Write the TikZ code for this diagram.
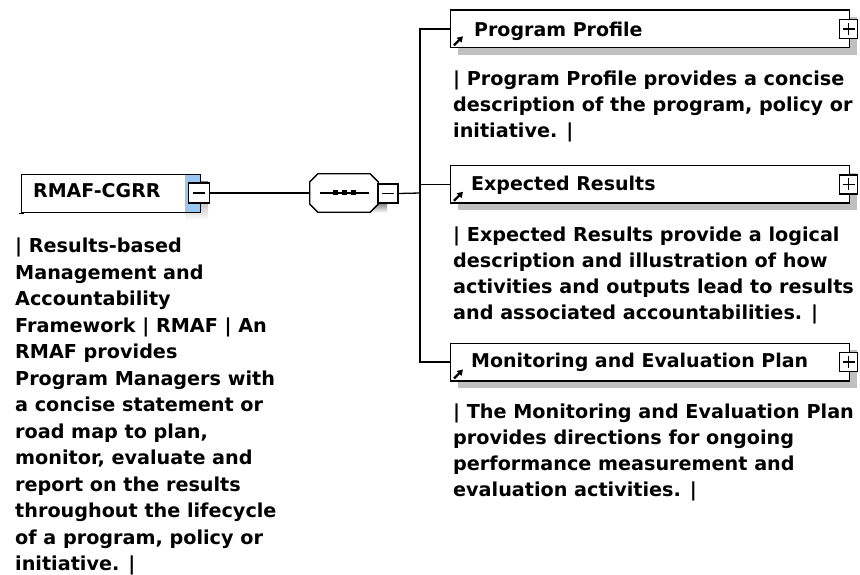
\documentclass[tikz,border=0pt]{standalone}
\usepackage{fontspec}
\setmainfont{DejaVu Sans}
\usetikzlibrary{arrows.meta}
\definecolor{shade}{RGB}{192,192,192}
\definecolor{selblue}{RGB}{153,199,242}

\tikzset{
  wire/.style={line width=1.3pt},
  togbox/.style={draw, line width=1.3pt, fill=white, rectangle, inner sep=0pt,
    minimum width=19pt, minimum height=19pt},
  minusbox/.style={togbox, path picture={
    \draw[line width=1.3pt] ([xshift=-6pt]path picture bounding box.center)
      -- ([xshift=6pt]path picture bounding box.center);}},
  plusbox/.style={togbox, path picture={
    \draw[line width=1.3pt] ([xshift=-6pt]path picture bounding box.center)
      -- ([xshift=6pt]path picture bounding box.center)
      ([yshift=-6pt]path picture bounding box.center)
      -- ([yshift=6pt]path picture bounding box.center);}},
  elbox/.style={draw, line width=1.3pt, fill=white, rectangle, inner sep=0pt,
    minimum width=399pt, minimum height=37.5pt, anchor=north west,
    preaction={draw=none, fill=shade, transform canvas={xshift=7pt, yshift=-7pt}}},
  lbl/.style={font=\fontsize{19}{22}\selectfont\bfseries, anchor=base west, inner sep=0pt},
  desc/.style={font=\fontsize{19.2}{26}\selectfont\bfseries, align=left,
    anchor=north west, inner sep=0pt},
  refarrow/.style={line width=2.2pt, -{Triangle[length=5.5pt, width=6.5pt]}}
}

\begin{document}
\begin{tikzpicture}[x=1pt, y=-1pt]
\useasboundingbox (0,0) rectangle (860,575);
\fill[white] (0,0) rectangle (860,575);

% root element
\fill[shade] (185,182) rectangle (208,220);
\node[draw, line width=1.3pt, fill=white, rectangle, inner sep=0pt,
  minimum width=179pt, minimum height=38pt, anchor=north west,
  path picture={\fill[selblue] ([xshift=-16pt]path picture bounding box.north east)
    rectangle (path picture bounding box.south east);}] (rmaf) at (21,174) {};
\draw[line width=1.3pt] ([xshift=-2pt]rmaf.south west) -- ([xshift=3pt]rmaf.south west);
\node[lbl] (rmaflbl) at (33,197.5) {RMAF-CGRR};
\node[minusbox, minimum width=21pt, minimum height=20pt] (rmaftog) at (199,193) {};

% sequence compositor
\fill[shade] (370,203) rectangle (387,212.5);
\node[minimum width=68pt, minimum height=38pt, inner sep=0pt] (seq) at (344,193) {};
\draw[line width=1.3pt, fill=white]
  ([xshift=8pt]seq.north west) -- ([xshift=-8pt]seq.north east)
  -- ([yshift=-8pt]seq.north east) -- ([yshift=8pt]seq.south east)
  -- ([xshift=-8pt]seq.south east) -- ([xshift=8pt]seq.south west)
  -- ([yshift=8pt]seq.south west) -- ([yshift=-8pt]seq.north west) -- cycle;
\draw[line width=1.3pt] ([xshift=-24pt]seq.center) -- ([xshift=25pt]seq.center);
\foreach \dx in {-9,0,9}
  \fill ([shift={(\dx-2.5,-2.5)}]seq.center) rectangle +(5,5);
\node[minusbox, minimum width=20pt] (seqtog) at (388,193.5) {};

% child elements
\node[elbox] (pp) at (450,9.5) {};
\node[elbox] (er) at (450,165) {};
\node[elbox] (me) at (450,342.7) {};

\node[lbl] (pplbl) at (474,36.5) {Program Profile};
\node[lbl] (erlbl) at (471,190.5) {Expected Results};
\node[lbl] (melbl) at (471,367) {Monitoring and Evaluation Plan};

\foreach \b in {pp,er,me}{
  \draw[refarrow] ([shift={(4,-3)}]\b.south west) -- ([shift={(13,-12)}]\b.south west);
  \node[plusbox, minimum width=18pt] (\b tog) at ([xshift=-1.5pt]\b.east) {};
}

% connectors
\coordinate (bus) at (420,193);
\draw[wire] (rmaftog.east) -- (seq.west);
\draw[wire] (seqtog.east) -- (bus);
\draw[wire] (pp.west) -| (bus) |- (me.west);
\draw[wire] (er.west) -- (er.west -| bus);

% annotations
\node[desc, font=\fontsize{19.2}{26.5}\selectfont\bfseries] (rmafdoc) at (15,238) {| Results-based\\Management and\\Accountability\\Framework | RMAF | An\\RMAF provides\\Program Managers with\\a concise statement or\\road map to plan,\\monitor, evaluate and\\report on the results\\throughout the lifecycle\\of a program, policy or\\initiative. |};
\node[desc] (ppdoc) at (453,71) {| Program Profile provides a concise\\description of the program, policy or\\initiative. |};
\node[desc] (erdoc) at (453,227) {| Expected Results provide a logical\\description and illustration of how\\activities and outputs lead to results\\and associated accountabilities. |};
\node[desc] (medoc) at (453,404) {| The Monitoring and Evaluation Plan\\provides directions for ongoing\\performance measurement and\\evaluation activities. |};
\end{tikzpicture}
\end{document}
